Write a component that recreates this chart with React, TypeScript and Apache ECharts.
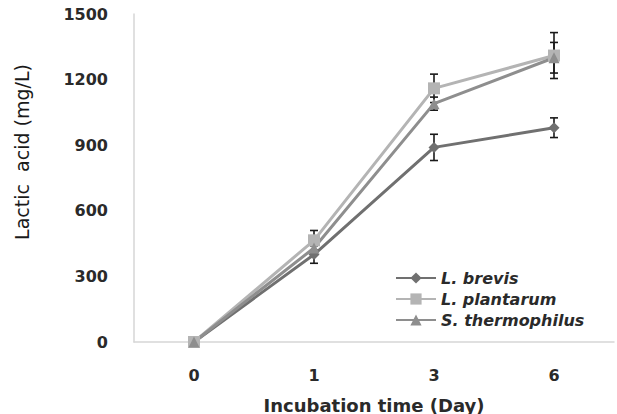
import React, { useEffect, useRef } from "react";
import * as echarts from "echarts";

// Incubation days (category axis)
const days = ["0", "1", "3", "6"];

// Lactic acid production (mg/L) per strain, with standard deviations
const brevis = [0, 400, 890, 980];
const brevisErr = [0, 40, 60, 45];
const plantarum = [0, 465, 1160, 1310];
const plantarumErr = [0, 45, 65, 105];
const thermophilus = [0, 430, 1090, 1300];
const thermophilusErr = [0, 30, 30, 70];

const yTicks = { min: 0, max: 1500, interval: 300 };

const strains = [
  { name: "L. brevis", values: brevis, errors: brevisErr, color: "#707070", symbol: "diamond", size: 11 },
  { name: "L. plantarum", values: plantarum, errors: plantarumErr, color: "#b4b4b4", symbol: "rect", size: 12 },
  { name: "S. thermophilus", values: thermophilus, errors: thermophilusErr, color: "#8e8e8e", symbol: "triangle", size: 11 },
];

const FONT = "DejaVu Sans";

export default function App() {
  const ref = useRef<HTMLDivElement>(null);

  useEffect(() => {
    if (!ref.current) return;
    const chart = echarts.init(ref.current, null, { renderer: "svg" });

    const lineSeries = strains.map((s) => ({
      name: s.name,
      type: "line",
      data: s.values,
      symbol: s.symbol,
      symbolSize: s.size,
      showSymbol: true,
      z: 3,
      lineStyle: { color: s.color, width: 3 },
      itemStyle: { color: s.color },
    }));

    // Error bars: vertical whisker with caps, drawn beneath the markers
    const errorSeries = strains.map((s) => ({
      name: s.name + " SD",
      type: "custom",
      z: 2,
      silent: true,
      encode: { x: 0, y: 1 },
      data: s.values.map((v, i) => [i, v, s.errors[i]]),
      renderItem: (params: any, api: any) => {
        const i = api.value(0);
        const v = api.value(1);
        const e = api.value(2);
        if (!e) return null;
        const hi = api.coord([i, v + e]);
        const lo = api.coord([i, v - e]);
        const cap = 4;
        const style = { stroke: "#1a1a1a", lineWidth: 1.6 };
        return {
          type: "group",
          children: [
            { type: "line", shape: { x1: hi[0], y1: hi[1], x2: lo[0], y2: lo[1] }, style },
            { type: "line", shape: { x1: hi[0] - cap, y1: hi[1], x2: hi[0] + cap, y2: hi[1] }, style },
            { type: "line", shape: { x1: lo[0] - cap, y1: lo[1], x2: lo[0] + cap, y2: lo[1] }, style },
          ],
        };
      },
    }));

    chart.setOption({
      animation: false,
      backgroundColor: "#ffffff",
      grid: {
        left: 134,
        right: 3,
        top: 14,
        bottom: 72,
        containLabel: false,
        outerBoundsMode: "none",
      },
      legend: {
        data: strains.map((s) => s.name),
        orient: "vertical",
        left: 390,
        top: 265,
        itemWidth: 40,
        itemHeight: 14,
        itemGap: 5,
        textStyle: {
          fontFamily: FONT,
          fontStyle: "italic",
          fontWeight: "bold",
          fontSize: 16,
          color: "#2a2a2a",
        },
      },
      xAxis: {
        type: "category",
        data: days,
        boundaryGap: true,
        name: "Incubation time (Day)",
        nameLocation: "middle",
        nameGap: 54,
        nameTextStyle: { fontFamily: FONT, fontWeight: "bold", fontSize: 18, color: "#2a2a2a" },
        axisLine: { lineStyle: { color: "#d6d6d6", width: 1.5 } },
        axisTick: { show: false },
        axisLabel: { fontFamily: FONT, fontWeight: "bold", fontSize: 16, color: "#2a2a2a", margin: 25 },
      },
      yAxis: {
        type: "value",
        min: yTicks.min,
        max: yTicks.max,
        interval: yTicks.interval,
        axisLine: { show: true, lineStyle: { color: "#d6d6d6", width: 1.5 } },
        axisTick: { show: false },
        splitLine: { show: false },
        axisLabel: {
          fontFamily: FONT,
          fontWeight: "bold",
          fontSize: 16,
          color: "#2a2a2a",
          margin: 26,
          formatter: (v: number) => String(v),
        },
      },
      graphic: [
        {
          type: "text",
          x: 22,
          y: 152,
          rotation: Math.PI / 2,
          style: {
            text: "Lactic  acid (mg/L)",
            fontFamily: FONT,
            fontSize: 19,
            fill: "#1a1a1a",
            align: "center",
            verticalAlign: "middle",
          },
        },
      ],
      series: [...errorSeries, ...lineSeries],
    });

    return () => chart.dispose();
  }, []);

  return (
    <div
      ref={ref}
      style={{ position: "absolute", left: 0, top: 0, width: 617, height: 414 }}
    />
  );
}
